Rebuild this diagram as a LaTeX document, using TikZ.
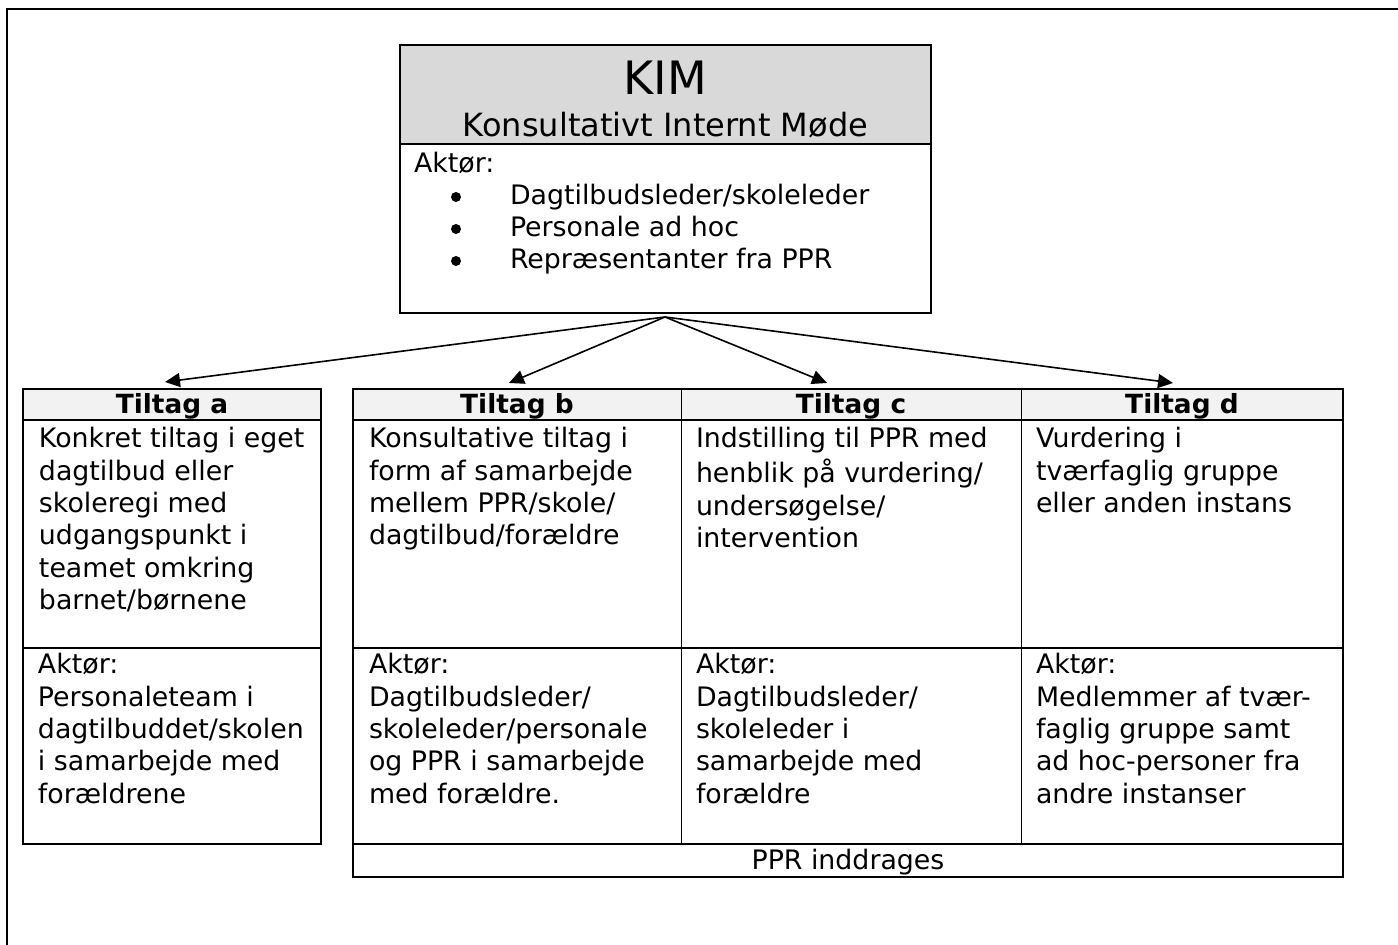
\documentclass[tikz,border=0pt]{standalone}
\usepackage{fontspec}
\setmainfont{DejaVu Sans}
\usetikzlibrary{arrows.meta}
\definecolor{kimgrey}{HTML}{D9D9D9}
\definecolor{hdrgrey}{HTML}{F2F2F2}
\begin{document}
\begin{tikzpicture}[x=0.5pt,y=-0.5pt,
  bodytxt/.style={font=\fontsize{13.4}{16.2}\selectfont, inner sep=0pt, outer sep=0pt, align=left, anchor=north west},
  linetxt/.style={font=\fontsize{13.4}{16.2}\selectfont, inner sep=0pt, outer sep=0pt, anchor=base west},
  hdrtxt/.style={font=\fontsize{13.2}{16.2}\selectfont\bfseries, inner sep=0pt, outer sep=0pt, anchor=base},
  frame/.style={line width=1pt},
  thin/.style={line width=0.5pt},
  conn/.style={line width=0.8pt, -{Triangle[length=7.5pt,width=7pt]}}]
\useasboundingbox (0,0) rectangle (1398,945);
% outer frame
\draw[frame] (7,945) -- (7,9) -- (1398,9);
% KIM box
\fill[kimgrey] (400,45) rectangle (931,144);
\draw[frame] (400,45) rectangle (931,313);
\draw[frame] (400,144) -- (931,144);
\node[font=\fontsize{23}{27}\selectfont, inner sep=0pt, anchor=base] (kim) at (665.5,95) {KIM};
\node[font=\fontsize{16}{19}\selectfont, inner sep=0pt, anchor=base] (kimsub) at (665.5,137) {Konsultativt Internt Møde};
\node[linetxt] (akt) at (414,173) {Aktør:};
\node[linetxt] (k1) at (510,205) {Dagtilbudsleder/skoleleder};
\node[linetxt] (k2) at (510,237) {Personale ad hoc};
\node[linetxt] (k3) at (510,269) {Repræsentanter fra PPR};
\fill (456,197) circle (2.5pt);
\fill (456,229) circle (2.5pt);
\fill (456,261) circle (2.5pt);
\coordinate (kimbot) at (665,317);
% Tiltag a box
\fill[hdrgrey] (23,389) rectangle (321,420);
\draw[frame] (23,389) rectangle (321,844);
\draw[frame] (23,420) -- (321,420);
\draw[frame] (23,648) -- (321,648);
% main table
\fill[hdrgrey] (353,389) rectangle (1343,420);
\draw[frame] (353,389) rectangle (1343,877);
\draw[frame] (353,420) -- (1343,420);
\draw[frame] (353,648) -- (1343,648);
\draw[frame] (353,844) -- (1343,844);
\draw[thin] (681,389) -- (681,844);
\draw[thin] (1021,389) -- (1021,844);
% headers
\node[hdrtxt] (ha) at (172,414) {Tiltag a};
\node[hdrtxt] (hb) at (517,414) {Tiltag b};
\node[hdrtxt] (hc) at (851,414) {Tiltag c};
\node[hdrtxt] (hd) at (1182,414) {Tiltag d};
% cell texts
\node[bodytxt] (ta) at (39,425) {\strut Konkret tiltag i eget\\dagtilbud eller\\skoleregi med\\udgangspunkt i\\teamet omkring\\barnet/børnene};
\node[bodytxt] (tb) at (369,425) {\strut Konsultative tiltag i\\form af samarbejde\\mellem PPR/skole/\\dagtilbud/forældre};
\node[bodytxt] (tc) at (696,425) {\strut Indstilling til PPR med\\henblik på vurdering/\\undersøgelse/\\intervention};
\node[bodytxt] (td) at (1036,425) {\strut Vurdering i\\tværfaglig gruppe\\eller anden instans};
\node[bodytxt] (aa) at (38,651) {\strut Aktør:\\Personaleteam i\\dagtilbuddet/skolen\\i samarbejde med\\forældrene};
\node[bodytxt] (ab) at (369,651) {\strut Aktør:\\Dagtilbudsleder/\\skoleleder/personale\\og PPR i samarbejde\\med forældre.};
\node[bodytxt] (ac) at (696,651) {\strut Aktør:\\Dagtilbudsleder/\\skoleleder i\\samarbejde med\\forældre};
\node[bodytxt] (ad) at (1036,651) {\strut Aktør:\\Medlemmer af tvær-\\faglig gruppe samt\\ad hoc-personer fra\\andre instanser};
\node[font=\fontsize{13.4}{16.2}\selectfont, inner sep=0pt, anchor=base] (ppr) at (848,870) {PPR inddrages};
% arrows
\coordinate (pa) at (165,382);
\coordinate (pb) at (509,383);
\coordinate (pc) at (827,383);
\coordinate (pd) at (1173,383);
\draw[conn] (kimbot) -- (pa);
\draw[conn] (kimbot) -- (pb);
\draw[conn] (kimbot) -- (pc);
\draw[conn] (kimbot) -- (pd);
\end{tikzpicture}
\end{document}
